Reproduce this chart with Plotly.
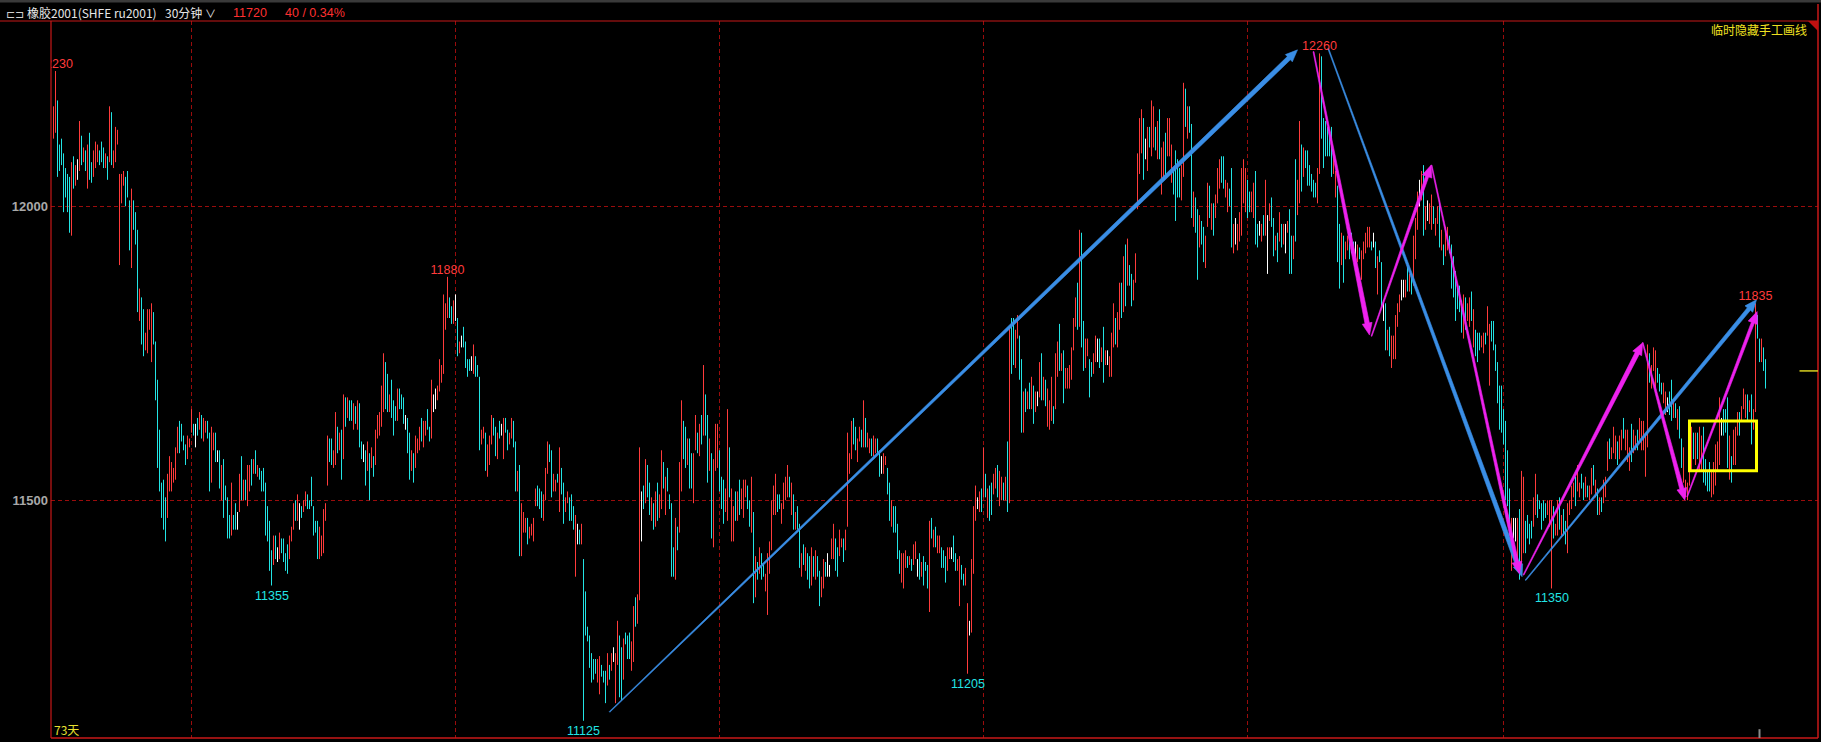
import plotly.graph_objects as go

W, H = 1821, 742
ML, MR, MT, MB = 51, 3, 21, 4
X_RANGE = [-1.25, 882.25]
Y_RANGE = [11095.7, 12315.1]

# ---- 30-minute bars (high / low / direction r=up c=down w=flat) ----
HIGH_A = [
    12170, 12230, 12180, 12105, 12115, 12090, 12065, 12055, 12050, 12075,
    12085, 12070, 12080, 12145, 12120, 12100, 12095, 12105, 12125, 12075,
    12095, 12110, 12105, 12095, 12110, 12100, 12090, 12085, 12170, 12160,
    12095, 12135, 12130, 12055, 12055, 12060, 12050, 12060, 12010, 12030,
    12010, 11990, 11960, 11860, 11845, 11825, 11785, 11825, 11825, 11835,
    11820, 11770, 11705, 11620, 11530, 11535, 11505, 11545, 11575, 11565,
    11555, 11590, 11625, 11635, 11630, 11610, 11595, 11610, 11605, 11655,
    11630, 11630, 11640, 11650, 11645, 11640, 11635, 11635, 11615, 11625,
    11615, 11615, 11585, 11585, 11560, 11570, 11525, 11505, 11475, 11530,
    11475, 11495, 11480, 11545, 11575, 11535, 11535, 11560, 11560, 11570,
    11570, 11585, 11560, 11555, 11550, 11555, 11530, 11490, 11465, 11415,
    11440, 11440, 11420, 11445, 11435, 11435, 11410, 11425, 11440, 11455,
    11495, 11500, 11510, 11495, 11490, 11500, 11515, 11510, 11500, 11540,
    11490, 11465, 11465, 11455, 11440, 11485, 11495, 11610, 11605, 11605,
    11585, 11650, 11625, 11615, 11620, 11680, 11675, 11675, 11670, 11670,
    11665, 11660, 11670, 11665, 11600, 11595, 11585, 11600, 11580, 11590,
    11575, 11620, 11645, 11650, 11695, 11750, 11735, 11715, 11680, 11705,
    11670, 11660, 11690, 11690]
LOW_A = [
    12115, 12125, 12050, 12060, 12070, 11990, 12015, 11990, 11955, 11950,
    12030, 12035, 12045, 12060, 12070, 12075, 12060, 12030, 12045, 12040,
    12050, 12065, 12075, 12070, 12075, 12065, 12065, 12045, 12075, 12070,
    12065, 12075, 12105, 11900, 12005, 12035, 12000, 12015, 11925, 11895,
    11960, 11935, 11820, 11805, 11765, 11745, 11755, 11750, 11790, 11735,
    11765, 11670, 11555, 11515, 11470, 11450, 11430, 11470, 11515, 11515,
    11530, 11535, 11580, 11580, 11600, 11585, 11560, 11570, 11590, 11615,
    11610, 11590, 11610, 11620, 11605, 11600, 11615, 11605, 11515, 11530,
    11585, 11565, 11565, 11520, 11500, 11470, 11500, 11435, 11435, 11440,
    11450, 11450, 11450, 11480, 11500, 11500, 11500, 11490, 11515, 11525,
    11545, 11545, 11540, 11535, 11515, 11515, 11440, 11430, 11380, 11355,
    11390, 11400, 11395, 11400, 11410, 11395, 11380, 11375, 11400, 11430,
    11450, 11465, 11465, 11450, 11470, 11480, 11490, 11485, 11485, 11490,
    11440, 11445, 11400, 11400, 11405, 11410, 11465, 11525, 11565, 11560,
    11555, 11560, 11580, 11585, 11535, 11570, 11625, 11640, 11635, 11635,
    11620, 11630, 11620, 11590, 11570, 11565, 11525, 11550, 11500, 11555,
    11540, 11560, 11605, 11610, 11625, 11650, 11655, 11650, 11650, 11640,
    11610, 11635, 11635, 11655]
DIR_A = ("rrcccccccr" "crwrcrcrcc" "rrrcccrcrc" "rrrrrrcccr" "cccrccrrrr"
         "cccccccrrr" "rrrccccrrr" "cwcrcrrccr" "rcwcrccccr" "ccwrcrcrrc"
         "rcrccccccc" "rcwrccccrr" "rcrwcrrccc" "cccrrrrrcc" "rrcrcrcrcc"
         "rcrccwcrcr" "crrrrrccrc" "ccrc")

HIGH_B = [
    11680, 11675, 11645, 11640, 11615, 11585, 11580, 11610, 11605, 11625,
    11640, 11635, 11635, 11655, 11625, 11705, 11680, 11690, 11695, 11740,
    11730, 11850, 11835, 11880, 11845, 11830, 11840, 11850, 11810, 11770,
    11780, 11795, 11770, 11740, 11740, 11745, 11765, 11745, 11730, 11710,
    11620, 11625, 11615, 11595, 11610, 11645, 11640, 11625, 11615, 11635,
    11630, 11640, 11640, 11620, 11615, 11640, 11635, 11600, 11550, 11560,
    11495, 11480, 11470, 11470, 11455, 11460, 11470, 11520, 11525, 11520,
    11515, 11510, 11555, 11600, 11595, 11585, 11545, 11535, 11545, 11590,
    11555, 11530, 11505, 11515, 11505, 11510, 11490, 11475, 11460, 11450,
    11460, 11400, 11345, 11285, 11270, 11240, 11230, 11230, 11230, 11235,
    11220, 11210, 11210, 11240, 11220, 11240, 11250, 11240, 11295, 11270,
    11250, 11265, 11275, 11270, 11275, 11260, 11320, 11335, 11340, 11590,
    11515, 11525, 11570, 11560, 11530, 11505, 11495, 11515, 11530, 11510,
    11585, 11565, 11540, 11555, 11510, 11495, 11420, 11470, 11455, 11565,
    11670, 11635, 11625, 11605, 11605, 11580, 11580, 11645, 11615, 11630,
    11645, 11730, 11680, 11645, 11605, 11580, 11570, 11630, 11630, 11585,
    11540, 11535, 11520, 11655, 11590, 11520, 11490, 11515, 11515, 11535,
    11520, 11535, 11535, 11525, 11500]
LOW_B = [
    11655, 11630, 11620, 11580, 11535, 11550, 11530, 11555, 11580, 11585,
    11600, 11590, 11610, 11620, 11600, 11605, 11650, 11655, 11670, 11685,
    11700, 11715, 11790, 11810, 11810, 11800, 11800, 11805, 11745, 11750,
    11760, 11760, 11725, 11710, 11720, 11720, 11715, 11710, 11710, 11585,
    11595, 11605, 11550, 11540, 11560, 11595, 11610, 11575, 11570, 11605,
    11610, 11570, 11615, 11585, 11595, 11605, 11590, 11515, 11515, 11405,
    11405, 11445, 11445, 11425, 11435, 11440, 11430, 11490, 11490, 11485,
    11470, 11465, 11500, 11545, 11565, 11505, 11515, 11515, 11530, 11480,
    11510, 11460, 11480, 11495, 11465, 11465, 11450, 11370, 11425, 11425,
    11425, 11125, 11270, 11260, 11215, 11190, 11195, 11205, 11190, 11170,
    11200, 11190, 11155, 11185, 11195, 11210, 11225, 11155, 11220, 11165,
    11160, 11195, 11255, 11230, 11230, 11210, 11225, 11285, 11290, 11330,
    11430, 11485, 11495, 11505, 11475, 11465, 11450, 11455, 11465, 11470,
    11485, 11520, 11475, 11515, 11485, 11370, 11370, 11365, 11415, 11445,
    11515, 11570, 11555, 11560, 11520, 11520, 11495, 11585, 11580, 11575,
    11595, 11610, 11610, 11530, 11550, 11435, 11420, 11550, 11555, 11515,
    11485, 11460, 11480, 11465, 11505, 11430, 11430, 11465, 11465, 11475,
    11485, 11470, 11505, 11485, 11455]
DIR_B = ("ccwccrcrrr" "crrccrwwrr" "rrrrccrwcr" "wccccwrccc" "rrcrrrccrc"
         "wrccrrccrc" "rrrcrrrrcc" "crrrccrrcr" "ccrrcccrwc" "rcccccccrr"
         "cccrcrwrrc" "crcccrrcrr" "wcrccrcrcr" "rcrccccrcr" "rccrccrrcr"
         "crccrcrrrc" "ccrrcrrcrc" "rrrcc")

HIGH_C = [
    11540, 11480, 11405, 11395, 11420, 11410, 11390, 11375, 11410, 11430,
    11500, 11525, 11545, 11510, 11510, 11495, 11530, 11540, 11560, 11540,
    11530, 11510, 11480, 11490, 11460, 11410, 11425, 11420, 11410, 11405,
    11420, 11405, 11415, 11405, 11380, 11370, 11400, 11395, 11410, 11390,
    11435, 11460, 11435, 11420, 11450, 11435, 11435, 11450, 11615, 11580,
    11635, 11640, 11625, 11605, 11625, 11620, 11670, 11640, 11615, 11605,
    11605, 11610, 11605, 11605, 11585, 11575, 11580, 11575, 11555, 11530,
    11500, 11490, 11490, 11460, 11415, 11410, 11410, 11415, 11405, 11405,
    11400, 11425, 11430, 11400, 11410, 11395, 11405, 11395, 11390, 11465,
    11470, 11450, 11455, 11440, 11440, 11420, 11415, 11405, 11420, 11420,
    11420, 11440, 11410, 11400, 11405, 11390, 11375, 11385, 11325, 11295,
    11400, 11490, 11525, 11505, 11515, 11520, 11590, 11545, 11520, 11525,
    11530, 11545, 11555, 11560, 11550, 11540, 11530, 11540, 11600, 11795,
    11810, 11810, 11790, 11815, 11780, 11740, 11685, 11690, 11685, 11700,
    11710, 11695, 11685, 11685, 11735, 11750, 11710, 11705, 11690, 11670,
    11710, 11660, 11750, 11770, 11800, 11750, 11755, 11725, 11725, 11730,
    11760, 11810, 11845, 11870, 11960, 11955, 11805, 11775, 11775, 11740,
    11735, 11750, 11780, 11775, 11775]
LOW_C = [
    11445, 11325, 11335, 11365, 11375, 11365, 11370, 11345, 11305, 11375,
    11415, 11475, 11475, 11480, 11485, 11460, 11485, 11500, 11505, 11505,
    11475, 11450, 11450, 11450, 11385, 11370, 11390, 11380, 11365, 11350,
    11355, 11370, 11365, 11370, 11320, 11335, 11350, 11370, 11370, 11370,
    11400, 11400, 11380, 11370, 11405, 11420, 11395, 11415, 11455, 11545,
    11570, 11595, 11585, 11565, 11600, 11590, 11590, 11590, 11590, 11580,
    11575, 11575, 11580, 11580, 11540, 11545, 11545, 11560, 11510, 11465,
    11455, 11445, 11445, 11400, 11375, 11360, 11350, 11385, 11385, 11390,
    11380, 11390, 11400, 11370, 11365, 11370, 11355, 11380, 11350, 11310,
    11435, 11420, 11420, 11410, 11410, 11385, 11385, 11360, 11380, 11400,
    11400, 11395, 11380, 11380, 11320, 11365, 11355, 11355, 11205, 11270,
    11275, 11375, 11465, 11485, 11480, 11480, 11505, 11505, 11470, 11465,
    11475, 11510, 11520, 11505, 11490, 11500, 11500, 11500, 11480, 11495,
    11715, 11730, 11725, 11775, 11705, 11615, 11615, 11650, 11655, 11655,
    11655, 11630, 11650, 11660, 11675, 11670, 11670, 11660, 11625, 11620,
    11635, 11630, 11655, 11710, 11720, 11720, 11665, 11690, 11690, 11690,
    11705, 11755, 11795, 11790, 11795, 11760, 11720, 11725, 11745, 11675,
    11710, 11715, 11735, 11735, 11725]
DIR_C = ("rcrcrccrrr" "rrrccrrrrc" "rcrccrcrcc" "rcrccrrcww" "rrccrrcrrr"
         "rccrrcrcrr" "crrccwrrcc" "rccccrrrcr" "crrwcrcccr" "crcrrcccrr"
         "wccrrccrrw" "rrrwrcrcrc" "crrcrrcrcr" "ccrrccrcrc" "rcrwrcrcrr"
         "rcrrcrcrrr" "rrrcrccrrc" "crrwc")

HIGH_D = [
    11760, 11795, 11755, 11755, 11745, 11785, 11835, 11810, 11820, 11870,
    11870, 11915, 11935, 11945, 11900, 11885, 11875, 11920, 12090, 12150,
    12165, 12150, 12115, 12135, 12135, 12180, 12170, 12135, 12145, 12165,
    12100, 12110, 12125, 12150, 12150, 12105, 12060, 12095, 12080, 12065,
    12070, 12210, 12200, 12170, 12170, 12140, 12025, 12015, 11995, 11985,
    11975, 11965, 11950, 12040, 12035, 12005, 12005, 12020, 12065, 12080,
    12085, 12085, 12045, 12040, 12030, 12065, 11970, 11980, 11970, 11990,
    12065, 12080, 12065, 12045, 12025, 12025, 12040, 12060, 11970, 11975,
    11970, 11985, 12045, 11985, 12005, 12015, 11980, 11950, 11955, 11990,
    11970, 11970, 11970, 11975, 11995, 11950, 11950, 12080, 12045, 12145,
    12105, 12100, 12095, 12095, 12070, 12055, 12045, 12040, 12065, 12260,
    12255, 12150, 12145, 12135, 12125, 12135, 12090, 12060, 12035, 11970,
    11955, 11950, 11940, 11950, 11940, 11955, 11940, 11940, 11935, 11930,
    11925, 11940, 11955, 11965, 11965, 11940, 11955, 11940, 11915, 11925,
    11905, 11840, 11835, 11790, 11795, 11780, 11780, 11815, 11835, 11850,
    11875, 11875, 11875, 11900, 11885, 11885, 11950, 11980, 12025, 12045,
    12060, 12070, 12000, 12010, 12005, 12020, 12000, 11980, 12000, 12010,
    11960, 11935, 11965, 11965, 11950]
LOW_D = [
    11735, 11700, 11730, 11730, 11710, 11710, 11760, 11765, 11760, 11790,
    11810, 11820, 11830, 11865, 11865, 11830, 11840, 11870, 11995, 12055,
    12090, 12045, 12080, 12060, 12100, 12085, 12100, 12095, 12080, 12080,
    12020, 12045, 12050, 12085, 12085, 12040, 12020, 11975, 12015, 12015,
    12010, 12050, 12135, 12115, 12125, 11980, 11965, 11955, 11875, 11930,
    11935, 11905, 11895, 11965, 11980, 11960, 11950, 11980, 12005, 12030,
    12040, 12030, 12015, 11990, 12000, 11930, 11920, 11935, 11925, 11940,
    11950, 12005, 11990, 11980, 11990, 11990, 11980, 11935, 11930, 11950,
    11940, 11950, 11950, 11885, 11975, 11965, 11915, 11925, 11905, 11940,
    11930, 11935, 11920, 11955, 11885, 11885, 11910, 11940, 11985, 12005,
    12025, 12050, 12065, 12035, 12035, 12025, 12015, 12015, 12005, 12055,
    12115, 12065, 12085, 12085, 12085, 12050, 12055, 12015, 11905, 11860,
    11900, 11870, 11910, 11925, 11910, 11920, 11925, 11910, 11905, 11910,
    11875, 11910, 11920, 11930, 11930, 11925, 11930, 11895, 11850, 11905,
    11830, 11805, 11755, 11755, 11745, 11725, 11740, 11740, 11795, 11820,
    11840, 11845, 11845, 11855, 11855, 11850, 11865, 11910, 11960, 12000,
    12010, 11950, 11960, 11975, 11970, 11960, 11970, 11950, 11970, 11930,
    11925, 11900, 11915, 11925, 11920]
DIR_D = ("rcrwrrrcrr" "crcrccrrrr" "rcwrcrrcrc" "rrcrrrcccc" "rrcrccrccr"
         "ccrrcrcrrr" "ccrrccrwrr" "rrrccrrccw" "rcrwrccrcr" "crwrccrcrr"
         "crccccccrr" "ccccccrrcc" "rcrrcccwrc" "rrrrrcwcrc" "cwcrcrrrrr"
         "wwrcrcrrrw" "rcrwrrcrrc" "rcrrc")

HIGH_E = [
    11935, 11915, 11890, 11865, 11865, 11840, 11850, 11845, 11835, 11845,
    11855, 11825, 11790, 11785, 11785, 11780, 11785, 11785, 11830, 11800,
    11805, 11805, 11765, 11735, 11695, 11695, 11655, 11635, 11585, 11520,
    11470, 11470, 11470, 11470, 11485, 11550, 11540, 11465, 11475, 11460,
    11465, 11505, 11545, 11510, 11500, 11495, 11500, 11495, 11500, 11500,
    11500, 11490, 11460, 11500, 11505, 11475, 11485, 11465, 11495, 11500,
    11525, 11530, 11540, 11560, 11530, 11545, 11530, 11540, 11525, 11525,
    11555, 11560, 11535, 11520, 11505, 11505, 11535, 11540, 11600, 11605,
    11590, 11625, 11610, 11600, 11610, 11620, 11640, 11620, 11620, 11590,
    11630, 11620, 11610, 11620, 11640, 11635, 11635, 11610, 11765, 11750,
    11730, 11760, 11755, 11725, 11715, 11700, 11700, 11685, 11675, 11685,
    11705, 11670, 11665, 11655, 11660, 11605, 11590, 11535, 11530, 11550,
    11625, 11615, 11615, 11615, 11625, 11610, 11625, 11570, 11550, 11565,
    11550, 11565, 11595, 11600, 11675, 11640, 11655, 11655, 11675, 11610,
    11575, 11620, 11625, 11650, 11650, 11660, 11690, 11680, 11680, 11670,
    11680, 11655, 11835, 11815, 11775, 11775, 11760, 11740]
LOW_E = [
    11860, 11845, 11805, 11825, 11820, 11785, 11775, 11790, 11805, 11795,
    11805, 11760, 11745, 11735, 11755, 11760, 11750, 11765, 11780, 11695,
    11770, 11755, 11720, 11665, 11620, 11615, 11595, 11500, 11490, 11440,
    11380, 11435, 11430, 11400, 11365, 11390, 11410, 11410, 11435, 11425,
    11435, 11455, 11475, 11470, 11485, 11450, 11465, 11470, 11475, 11455,
    11350, 11435, 11440, 11440, 11450, 11440, 11440, 11425, 11410, 11475,
    11485, 11505, 11490, 11515, 11505, 11520, 11500, 11505, 11505, 11500,
    11510, 11525, 11505, 11475, 11475, 11480, 11495, 11505, 11550, 11570,
    11570, 11580, 11570, 11560, 11570, 11585, 11605, 11585, 11565, 11550,
    11565, 11580, 11585, 11585, 11600, 11585, 11585, 11540, 11590, 11700,
    11690, 11720, 11690, 11700, 11685, 11680, 11665, 11645, 11650, 11645,
    11635, 11640, 11640, 11620, 11605, 11555, 11530, 11505, 11500, 11525,
    11550, 11570, 11560, 11570, 11550, 11550, 11530, 11525, 11515, 11515,
    11505, 11510, 11525, 11550, 11560, 11610, 11610, 11615, 11555, 11535,
    11530, 11560, 11560, 11610, 11610, 11635, 11655, 11640, 11635, 11650,
    11595, 11620, 11650, 11775, 11735, 11735, 11720, 11690]
DIR_E = ("ccccccrcrr" "crcccrrcrr" "cccccccccc" "rwwrcrrccc" "crrcccccrr"
         "rcrrcrccrr" "rrcrrccrcr" "rcrcrcrrrc" "rrrcrrcrrr" "crrcrrrrrc"
         "rrrcccrrwc" "crcrccrrrr" "rcrcrrcccc" "rrrrrwcccr" "crrrcrrrcr"
         "crrccrcc")

HIGH = HIGH_A + HIGH_B + HIGH_C + HIGH_D + HIGH_E
LOW = LOW_A + LOW_B + LOW_C + LOW_D + LOW_E
DIR = DIR_A + DIR_B + DIR_C + DIR_D + DIR_E
for name, a, b, c in [("A", HIGH_A, LOW_A, DIR_A), ("B", HIGH_B, LOW_B, DIR_B),
                      ("C", HIGH_C, LOW_C, DIR_C), ("D", HIGH_D, LOW_D, DIR_D),
                      ("E", HIGH_E, LOW_E, DIR_E)]:
    assert len(a) == len(b) == len(c), (name, len(a), len(b), len(c))

# ---- marked extremes ----
TOP_IDX = [1, 197, 633, 851]
TOP_VAL = [12230, 11880, 12260, 11835]
BOT_IDX = [109, 265, 457, 749]
BOT_VAL = [11355, 11125, 11205, 11350]

# ---- hand-drawn trend arrows (bar index, price) ----
ARROW_X0 = [278, 637.3, 736, 630, 659, 689, 735, 794.6, 816.8]
ARROW_P0 = [11140, 12269, 11364, 12263, 11779, 12070, 11373, 11768, 11506]
ARROW_X1 = [622, 734.3, 851.5, 658, 688.8, 733, 794.6, 815.7, 851.8]
ARROW_P1 = [12266, 11370, 11841, 11781, 12070, 11375, 11768, 11500, 11821]
ARROW_KIND = ["b", "b", "b", "m", "m", "m", "m", "m", "m"]
ARROW_W = [4.5, 4.5, 4, 4.5, 3.2, 3.2, 4.5, 4.2, 3.2]

BOX_X = [818, 851.5]
BOX_P = [11550, 11635]
LAST_PRICE = 11720
GRID_X = [69, 201, 333, 465, 597, 725]

RED = "#ff3b3b"
CYAN = "#22e4e4"
BAR_COL = {"r": RED, "c": CYAN, "w": "#ffffff"}
BLUE = "#3a8ee6"
MAG = "#ee22ee"

plot_w = W - ML - MR
plot_h = H - MT - MB
sx = plot_w / (X_RANGE[1] - X_RANGE[0])
sy = plot_h / (Y_RANGE[1] - Y_RANGE[0])


def to_px(i, p):
    return ML + (i - X_RANGE[0]) * sx, MT + (Y_RANGE[1] - p) * sy


def to_data(x, y):
    return X_RANGE[0] + (x - ML) / sx, Y_RANGE[1] - (y - MT) / sy


def px2paper(x, y):
    return (x - ML) / plot_w, (H - MB - y) / plot_h


fig = go.Figure()

for k, col in BAR_COL.items():
    xs, ys = [], []
    for i, (h, l, d) in enumerate(zip(HIGH, LOW, DIR)):
        if d == k:
            xs += [i, i, None]
            ys += [l, h, None]
    fig.add_trace(go.Scatter(x=xs, y=ys, mode="lines", line=dict(color=col, width=1),
                             hoverinfo="skip", showlegend=False))

# arrows as tapered polygons
for x0, p0, x1, p1, kind, w1 in zip(ARROW_X0, ARROW_P0, ARROW_X1, ARROW_P1, ARROW_KIND, ARROW_W):
    col = BLUE if kind == "b" else MAG
    ax, ay = to_px(x0, p0)
    bx, by = to_px(x1, p1)
    dx, dy = bx - ax, by - ay
    ln = (dx * dx + dy * dy) ** 0.5
    ux, uy = dx / ln, dy / ln
    nx, ny = -uy, ux
    hl, hw, w0 = 12, 10, 0.9
    cx, cy = bx - ux * hl, by - uy * hl
    pts = [(ax + nx * w0 / 2, ay + ny * w0 / 2),
           (cx + nx * w1 / 2, cy + ny * w1 / 2),
           (cx + nx * hw / 2, cy + ny * hw / 2),
           (bx, by),
           (cx - nx * hw / 2, cy - ny * hw / 2),
           (cx - nx * w1 / 2, cy - ny * w1 / 2),
           (ax - nx * w0 / 2, ay - ny * w0 / 2)]
    dpts = [to_data(px, py) for px, py in pts]
    dpts.append(dpts[0])
    fig.add_trace(go.Scatter(x=[q[0] for q in dpts], y=[q[1] for q in dpts], mode="lines",
                             fill="toself", fillcolor=col, line=dict(color=col, width=0.6),
                             hoverinfo="skip", showlegend=False))

# high labels (clipped by the plot area, like the "230" at the left edge)
fig.add_trace(go.Scatter(x=TOP_IDX, y=TOP_VAL, mode="text", text=[str(v) for v in TOP_VAL],
                         textposition="top center",
                         textfont=dict(family="Liberation Sans", size=12.5, color=RED),
                         hoverinfo="skip", showlegend=False, cliponaxis=True))

ann = []
# low labels
for i, v in zip(BOT_IDX, BOT_VAL):
    ann.append(dict(x=i, y=v, xref="x", yref="y", text=str(v), showarrow=False,
                    xanchor="center", yanchor="middle", yshift=-10,
                    font=dict(family="Liberation Sans", size=12.5, color=CYAN)))

shapes = []
BORDER = "#c81818"
lx0, _ = px2paper(0, 0)
shapes.append(dict(type="line", xref="paper", yref="paper", x0=lx0, x1=1, y0=1, y1=1,
                   line=dict(color=BORDER, width=1.2), layer="above"))
shapes.append(dict(type="line", xref="paper", yref="paper", x0=0, x1=0, y0=0, y1=1,
                   line=dict(color=BORDER, width=1.2), layer="above"))
shapes.append(dict(type="line", xref="paper", yref="paper", x0=0, x1=1, y0=0, y1=0,
                   line=dict(color=BORDER, width=1.5), layer="above"))
_, ty = px2paper(0, 4)
shapes.append(dict(type="line", xref="paper", yref="paper", x0=1, x1=1, y0=0, y1=ty,
                   line=dict(color=BORDER, width=1.5), layer="above"))
g0x, g0y = px2paper(0, 0)
g1x, g1y = px2paper(W, 2.5)
shapes.append(dict(type="rect", xref="paper", yref="paper", x0=g0x, x1=g1x, y0=g1y, y1=g0y,
                   fillcolor="#3a3a3a", line=dict(width=0), layer="above"))
t1 = px2paper(1808, 21)
t2 = px2paper(1818, 21)
t3 = px2paper(1818, 31)
shapes.append(dict(type="path", xref="paper", yref="paper",
                   path=f"M {t1[0]} {t1[1]} L {t2[0]} {t2[1]} L {t3[0]} {t3[1]} Z",
                   fillcolor="#c01010", line=dict(width=0), layer="above"))
shapes.append(dict(type="rect", xref="x", yref="y", x0=BOX_X[0], x1=BOX_X[1], y0=BOX_P[0], y1=BOX_P[1],
                   line=dict(color="#ffff00", width=3), layer="above"))
shapes.append(dict(type="line", xref="x", yref="y", x0=873, x1=X_RANGE[1], y0=LAST_PRICE, y1=LAST_PRICE,
                   line=dict(color="#d8d020", width=1.5), layer="above"))
shapes.append(dict(type="line", xref="x", yref="y", x0=853, x1=853, y0=Y_RANGE[0], y1=Y_RANGE[0] + 15,
                   line=dict(color="#8a8a8a", width=2), layer="above"))


def text_at(x, y, s, col, size=12, anchor="left", family="Noto Sans CJK SC"):
    px, py = px2paper(x, y)
    ann.append(dict(x=px, y=py, xref="paper", yref="paper", text=s, showarrow=False,
                    xanchor=anchor, yanchor="middle",
                    font=dict(family=family, size=size, color=col)))


text_at(4, 13, "⊏⊐", "#d0d0d0", 11)
text_at(25, 13, "橡胶2001(SHFE ru2001)", "#e6e6e6", 12)
text_at(163, 13, "30分钟", "#e6e6e6", 12)
text_at(203, 13, "∨", "#e6e6e6", 11)
text_at(231, 13, "11720", "#ff3030", 12.5, family="Liberation Sans")
text_at(283, 13, "40 / 0.34%", "#ff3030", 12.5, family="Liberation Sans")
text_at(1809, 30, "临时隐藏手工画线", "#f0e020", 12, anchor="right")
text_at(52, 729, "73天", "#e8e030", 12)

fig.update_layout(
    width=W, height=H, autosize=False,
    margin=dict(l=ML, r=MR, t=MT, b=MB, pad=0),
    paper_bgcolor="#000000", plot_bgcolor="#000000",
    showlegend=False, hovermode=False,
    shapes=shapes, annotations=ann,
    xaxis=dict(range=X_RANGE, showticklabels=False, ticks="", showline=False, zeroline=False,
               tickmode="array", tickvals=GRID_X, showgrid=True, gridcolor="#9a0c0c",
               griddash="4px,3px", gridwidth=1, fixedrange=True),
    yaxis=dict(range=Y_RANGE, tickmode="array", tickvals=[11500, 12000], ticktext=["11500", "12000"],
               ticks="", showline=False, zeroline=False, showgrid=True, gridcolor="#9a0c0c",
               griddash="4px,3px", gridwidth=1, ticklabelstandoff=2,
               tickfont=dict(family="Liberation Sans", size=13, color="#a8a8a8", weight="bold"),
               fixedrange=True),
)

fig.write_html("out.html", config={"displayModeBar": False, "staticPlot": True},
               post_script="document.body.style.margin='0';document.body.style.overflow='hidden';")
